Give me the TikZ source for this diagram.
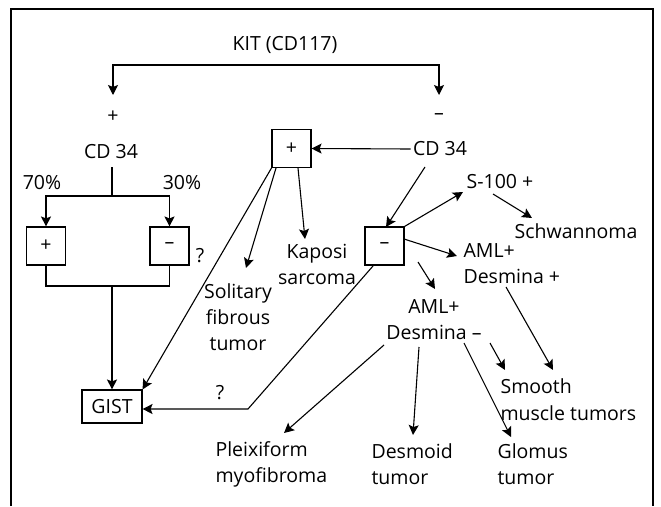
\documentclass[tikz,border=0pt]{standalone}
\usepackage{fontspec}
\setmainfont{Open Sans}
\usetikzlibrary{arrows.meta}
\begin{document}
\begin{tikzpicture}[x=1pt,y=-1pt,
  line width=1.1pt,
  every node/.style={font=\fontsize{19.5}{26}\selectfont, inner sep=2pt},
  arr/.style={-{Stealth[length=10pt,width=10pt,inset=2pt]}},
  arrs/.style={{Stealth[length=10pt,width=10pt,inset=2pt]}-{Stealth[length=10pt,width=10pt,inset=2pt]}},
  box/.style={draw, line width=1.1pt, minimum width=39pt, minimum height=38pt, inner sep=0pt},
  txt/.style={align=center},
  ltxt/.style={align=left, anchor=west}]
\useasboundingbox (0,0) rectangle (661,506);
% frame
\draw[line width=1.4pt] (11,506) -- (11,9) -- (653,9) -- (653,506);

% texts
\node (kit) at (285,45) {KIT (CD117)};
\node (plusK) at (113,117) {+};
\node (minusK) at (439,117) {–};
\node (cdL) at (111,152) {CD 34};
\node (cdR) at (440,149) {CD 34};
\node (p70) at (42,183) {70\%};
\node (p30) at (182,183) {30\%};
\node (q1) at (200,256) {?};
\node (q2) at (220,393) {?};
\node[txt] (kaposi) at (317,264) {Kaposi\\sarcoma};
\node[txt] (solitary) at (238,317) {Solitary\\fibrous\\tumor};
\node (s100) at (500,182) {S-100 +};
\node (schw) at (576,231) {Schwannoma};
\node[ltxt] (amlp) at (461,264) {AML+\\Desmina +};
\node[txt] (amlm) at (434,320) {AML+\\Desmina –};
\node[ltxt, font=\fontsize{19.5}{27}\selectfont] (smooth) at (498,399.5) {Smooth\\muscle tumors};
\node[ltxt] (pleix) at (213,464.5) {Pleixiform\\myofibroma};
\node[ltxt] (desmoid) at (369,464.5) {Desmoid\\tumor};
\node[ltxt] (glomus) at (495,464.5) {Glomus\\tumor};

% boxes
\node[box] (bP) at (291.5,148.5) {+};
\node[box] (bL) at (46,246) {+};
\node[box] (bR) at (169.5,246) {–};
\node[box] (bM) at (384.5,246) {–};
\node[draw, line width=1.1pt, minimum width=60pt, minimum height=33pt, inner sep=0pt] (gist) at (112,406.5) {GIST};

% top split
\coordinate (kl) at (113,95);
\coordinate (kr) at (439,95);
\draw[arrs] (kl) -- (113,65) -- (439,65) -- (kr);

% left CD34 tree
\coordinate (jt) at (112,196);
\coordinate (jb) at (112,286);
\draw (112,167) -- (jt);
\draw[arr] (jt) -| (bL.north);
\draw[arr] (jt) -| (bR.north);
\draw (bL.south) |- (jb);
\draw (bR.south) |- (jb);
\draw[arr] (jb) -- (gist.north);

% right CD34
\draw[arr] (cdR.west) -- (bP.east);
\coordinate (cdRs) at (425,167);
\draw[arr] (cdRs) -- (386,227);

% from + box
\draw[arr] (bP.south west) -- (gist.north east);
\coordinate (solA) at (246,268);
\draw[arr] (276,168) -- (solA);
\coordinate (kapA) at (305,239);
\draw[arr] (298,168) -- (kapA);

% from - box
\coordinate (s100A) at (463,192);
\draw[arr] (bM.north east) -- (s100A);
\coordinate (schwS) at (493,194);
\coordinate (schwA) at (532,218);
\draw[arr] (schwS) -- (schwA);
\coordinate (amlpA) at (457,256);
\draw[arr] (404,239) -- (amlpA);
\coordinate (amlmA) at (435,289);
\draw[arr] (418,262) -- (amlmA);
\coordinate (kink) at (248,409);
\draw[arr] (373,266) -- (kink) -- (kink -| gist.east);

% to smooth
\coordinate (smA) at (553,370);
\draw[arr] (506,287) -- (smA);
\coordinate (smB) at (505,370);
\draw[arr] (490,343) -- (smB);

% from AML+ Desmina -
\coordinate (plA) at (284,433);
\draw[arr] (384,345) -- (plA);
\coordinate (deA) at (413,435);
\draw[arr] (419,347) -- (deA);
\coordinate (glA) at (511,437);
\draw[arr] (464,343) -- (glA);
\end{tikzpicture}
\end{document}
